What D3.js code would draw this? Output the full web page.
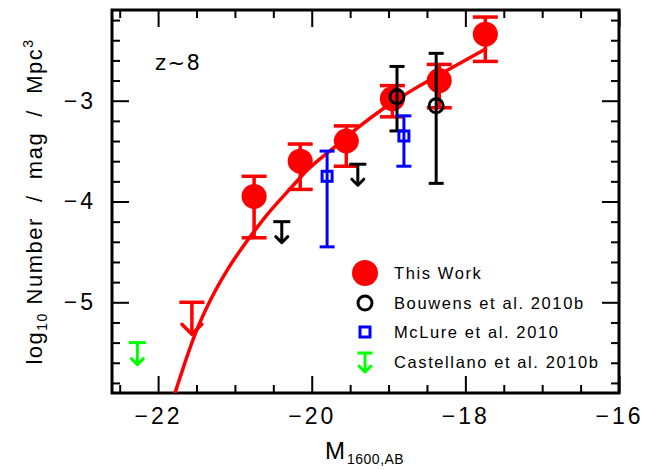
<!DOCTYPE html>
<html>
<head>
<meta charset="utf-8">
<script src="https://cdn.jsdelivr.net/npm/d3@7"></script>
<style>
  html, body { margin: 0; padding: 0; background: #fff; }
  svg { display: block; font-family: "Liberation Sans", Arial, sans-serif; }
</style>
</head>
<body>
<svg id="chart" width="658" height="470"></svg>
<script>
// ---------------- data ----------------
const xMajorTicks = [-22, -20, -18, -16];
const xMinorTicks = [-22.5, -21.5, -21, -20.5, -19.5, -19, -18.5, -17.5, -17, -16.5];
const yMajorTicks = [-5, -4, -3];
const yMinorTicks = [-5.8, -5.6, -5.4, -5.2, -4.8, -4.6, -4.4, -4.2, -3.8, -3.6, -3.4, -3.2, -2.8, -2.6, -2.4, -2.2];

// This Work (red filled circles)
const thisWorkM      = [-20.75, -20.15, -19.55, -18.95, -18.34, -17.74];
const thisWorkPhi    = [-3.95, -3.60, -3.40, -2.98, -2.80, -2.34];
const thisWorkHi     = [-3.75, -3.43, -3.25, -2.85, -2.64, -2.17];
const thisWorkLo     = [-4.36, -3.88, -3.65, -3.16, -3.07, -2.61];
// This Work upper limit
const thisWorkLimM   = [-21.56];
const thisWorkLimPhi = [-5.00];

// Bouwens et al. 2010b (black open circles)
const bouwensM    = [-18.89, -18.38];
const bouwensPhi  = [-2.96, -3.05];
const bouwensHi   = [-2.66, -2.53];
const bouwensLo   = [-3.30, -3.82];
const bouwensLimM   = [-20.39, -19.40];
const bouwensLimPhi = [-4.20, -3.63];

// McLure et al. 2010 (blue open squares)
const mclureM   = [-19.80, -18.80];
const mclurePhi = [-3.75, -3.35];
const mclureHi  = [-3.50, -3.15];
const mclureLo  = [-4.45, -3.65];

// Castellano et al. 2010b (green upper limit)
const castM   = [-22.27];
const castPhi = [-5.40];

// Fitted luminosity function (red curve)
const fitM   = [-21.78, -21.51, -21.32, -21.10, -20.84, -20.58, -20.30, -20.06, -19.67, -19.37, -19.07, -18.68, -18.24, -17.72];
const fitPhi = [-5.90, -5.30, -4.98, -4.68, -4.39, -4.13, -3.89, -3.69, -3.44, -3.25, -3.08, -2.89, -2.70, -2.48];

const legendLabels = ["This Work", "Bouwens et al. 2010b", "McLure et al. 2010", "Castellano et al. 2010b"];
const redshiftLabel = "z~8";

// ---------------- drawing ----------------
const RED = "#ff0000", BLUE = "#0000ff", GREEN = "#00ff00", BLACK = "#000000";
const svg = d3.select("#chart");
const L = 112, R = 619, T = 10, B = 393;

const x = d3.scaleLinear().domain([-22.6, -16]).range([L, R]);
const y = d3.scaleLinear().domain([-5.9, -2.1]).range([B, T]);

const fmt = d => (d < 0 ? "\u2212" + Math.abs(d) : String(d));

function styleAxis(g, labels) {
  g.select(".domain").remove();
  g.selectAll(".tick line").attr("stroke", BLACK).attr("stroke-width", 2);
  if (!labels) g.selectAll(".tick text").remove();
  else g.selectAll(".tick text")
        .attr("fill", BLACK)
        .style("font-size", "23px")
        .style("letter-spacing", "3px");
}

// bottom
svg.append("g").attr("transform", `translate(0,${B})`)
  .call(d3.axisBottom(x).tickValues(xMajorTicks).tickSize(-17).tickPadding(15).tickFormat(fmt))
  .call(g => styleAxis(g, true));
svg.append("g").attr("transform", `translate(0,${B})`)
  .call(d3.axisBottom(x).tickValues(xMinorTicks).tickSize(-8))
  .call(g => styleAxis(g, false));
// top
svg.append("g").attr("transform", `translate(0,${T})`)
  .call(d3.axisTop(x).tickValues(xMajorTicks).tickSize(-17))
  .call(g => styleAxis(g, false));
svg.append("g").attr("transform", `translate(0,${T})`)
  .call(d3.axisTop(x).tickValues(xMinorTicks).tickSize(-8))
  .call(g => styleAxis(g, false));
// left
svg.append("g").attr("transform", `translate(${L},0)`)
  .call(d3.axisLeft(y).tickValues(yMajorTicks).tickSize(-17).tickPadding(16).tickFormat(fmt))
  .call(g => styleAxis(g, true));
svg.append("g").attr("transform", `translate(${L},0)`)
  .call(d3.axisLeft(y).tickValues(yMinorTicks).tickSize(-8))
  .call(g => styleAxis(g, false));
// right
svg.append("g").attr("transform", `translate(${R},0)`)
  .call(d3.axisRight(y).tickValues(yMajorTicks).tickSize(-17))
  .call(g => styleAxis(g, false));
svg.append("g").attr("transform", `translate(${R},0)`)
  .call(d3.axisRight(y).tickValues(yMinorTicks).tickSize(-8))
  .call(g => styleAxis(g, false));

// frame
svg.append("rect").attr("x", L).attr("y", T).attr("width", R - L).attr("height", B - T)
  .attr("fill", "none").attr("stroke", BLACK).attr("stroke-width", 3);

// clip for plot contents
svg.append("clipPath").attr("id", "plotclip").append("rect")
  .attr("x", L).attr("y", T).attr("width", R - L).attr("height", B - T);
const plot = svg.append("g").attr("clip-path", "url(#plotclip)");

// fit curve
const fitData = fitM.map((m, i) => [m, fitPhi[i]]);
plot.append("path").datum(fitData)
  .attr("d", d3.line().x(d => x(d[0])).y(d => y(d[1])).curve(d3.curveMonotoneX))
  .attr("fill", "none").attr("stroke", RED).attr("stroke-width", 3.5);

function errorBars(g, ms, hi, lo, color, capW, sw) {
  ms.forEach((m, i) => {
    const cx = x(m);
    g.append("line").attr("x1", cx).attr("x2", cx).attr("y1", y(hi[i])).attr("y2", y(lo[i]))
      .attr("stroke", color).attr("stroke-width", sw);
    [hi[i], lo[i]].forEach(v => {
      g.append("line").attr("x1", cx - capW / 2).attr("x2", cx + capW / 2)
        .attr("y1", y(v)).attr("y2", y(v)).attr("stroke", color).attr("stroke-width", sw);
    });
  });
}

function upperLimit(g, cx, cy, color, capW, len, headW, headH, sw) {
  g.append("line").attr("x1", cx - capW / 2).attr("x2", cx + capW / 2).attr("y1", cy).attr("y2", cy)
    .attr("stroke", color).attr("stroke-width", sw);
  g.append("line").attr("x1", cx).attr("x2", cx).attr("y1", cy).attr("y2", cy + len)
    .attr("stroke", color).attr("stroke-width", sw);
  g.append("polyline")
    .attr("points", `${cx - headW},${cy + len - headH} ${cx},${cy + len} ${cx + headW},${cy + len - headH}`)
    .attr("fill", "none").attr("stroke", color).attr("stroke-width", sw)
    .attr("stroke-linecap", "round").attr("stroke-linejoin", "round");
}

// This Work
errorBars(plot, thisWorkM, thisWorkHi, thisWorkLo, RED, 25, 3.5);
thisWorkM.forEach((m, i) => {
  plot.append("circle").attr("cx", x(m)).attr("cy", y(thisWorkPhi[i])).attr("r", 12.5).attr("fill", RED);
});
thisWorkLimM.forEach((m, i) => upperLimit(plot, x(m), y(thisWorkLimPhi[i]), RED, 25, 32, 10, 10, 3.5));

// Bouwens
errorBars(plot, bouwensM, bouwensHi, bouwensLo, BLACK, 15, 3);
bouwensM.forEach((m, i) => {
  plot.append("circle").attr("cx", x(m)).attr("cy", y(bouwensPhi[i])).attr("r", 7)
    .attr("fill", "none").attr("stroke", BLACK).attr("stroke-width", 3);
});
bouwensLimM.forEach((m, i) => upperLimit(plot, x(m), y(bouwensLimPhi[i]), BLACK, 17, 21, 6, 6, 3));

// McLure
errorBars(plot, mclureM, mclureHi, mclureLo, BLUE, 15, 3);
mclureM.forEach((m, i) => {
  plot.append("rect").attr("x", x(m) - 5).attr("y", y(mclurePhi[i]) - 5).attr("width", 10).attr("height", 10)
    .attr("fill", "none").attr("stroke", BLUE).attr("stroke-width", 3);
});

// Castellano
castM.forEach((m, i) => upperLimit(plot, x(m), y(castPhi[i]), GREEN, 17, 22, 6, 6, 3));

// redshift label
svg.append("text").attr("x", 155).attr("y", 70).text(redshiftLabel)
  .style("font-family", "'DejaVu Sans', sans-serif")
  .style("font-size", "21px").style("letter-spacing", "1.5px").attr("fill", BLACK);

// legend
const lgX = 365, lgTextX = 394, lgY = [273, 303, 332, 362];
svg.append("circle").attr("cx", lgX).attr("cy", lgY[0]).attr("r", 13).attr("fill", RED);
svg.append("circle").attr("cx", lgX).attr("cy", lgY[1]).attr("r", 7)
  .attr("fill", "none").attr("stroke", BLACK).attr("stroke-width", 3);
svg.append("rect").attr("x", lgX - 5).attr("y", lgY[2] - 5).attr("width", 10).attr("height", 10)
  .attr("fill", "none").attr("stroke", BLUE).attr("stroke-width", 3);
upperLimit(svg, lgX, lgY[3] - 9, GREEN, 15, 19, 6, 6, 3);
legendLabels.forEach((t, i) => {
  svg.append("text").attr("x", lgTextX).attr("y", lgY[i]).attr("dy", "0.36em").text(t)
    .style("font-size", "16.5px").style("letter-spacing", "1.6px").attr("fill", BLACK);
});

// x label
const xl = svg.append("text").attr("x", 325).attr("y", 459).attr("fill", BLACK);
xl.append("tspan").text("M").style("font-size", "24px");
xl.append("tspan").text("1600,AB").attr("dx", 2).attr("dy", 5).style("font-size", "14px").style("letter-spacing", "0.5px");

// y label
const yl = svg.append("text")
  .attr("transform", `translate(42,${(T + B) / 2}) rotate(-90)`)
  .attr("text-anchor", "middle").attr("fill", BLACK)
  .style("font-size", "22px").style("letter-spacing", "1.5px");
yl.append("tspan").text("log");
yl.append("tspan").text("10").attr("dy", 5).style("font-size", "14px");
yl.append("tspan").text("\u00a0Number\u00a0\u00a0/\u00a0\u00a0mag\u00a0\u00a0/\u00a0\u00a0Mpc").attr("dy", -5);
yl.append("tspan").text("3").attr("dy", -9).style("font-size", "14px");
</script>
</body>
</html>
